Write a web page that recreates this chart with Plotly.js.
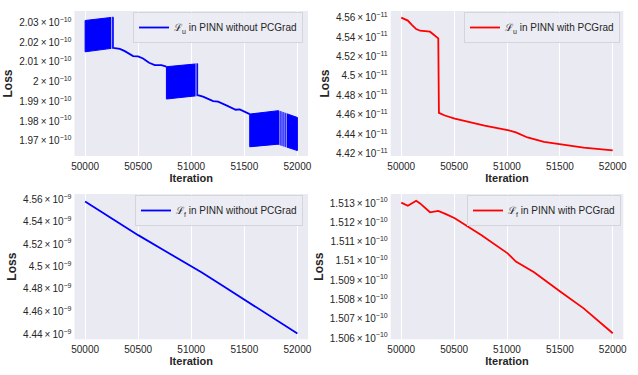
<!DOCTYPE html>
<html>
<head>
<meta charset="utf-8">
<script src="https://cdn.plot.ly/plotly-3.0.1.min.js"></script>
<style>html,body{margin:0;padding:0;background:#fff;}#chart{width:638px;height:375px;}</style>
</head>
<body>
<div id="chart"></div>
<script>
// ---------- data ----------
const xTicks = [50000, 50500, 51000, 51500, 52000];

// Panel 1: L_u without PCGrad (oscillating bands + connecting line)
const band1X = [50000, 50265];
const band1Top = [2.0312e-10, 2.0329e-10];
const band1Bot = [2.0151e-10, 2.0170e-10];
const band2X = [50766, 51060];
const band2Top = [2.0075e-10, 2.0090e-10];
const band2Bot = [1.9911e-10, 1.9928e-10];
const band3X = [51551, 51818, 52000];
const band3Top = [1.9835e-10, 1.9852e-10, 1.9818e-10];
const band3Bot = [1.9671e-10, 1.9684e-10, 1.9652e-10];
const gapIters = [50250, 51045, 51835, 51855, 51875, 51895];
const seg1X = [50265, 50280, 50327, 50374, 50452, 50499, 50546, 50603, 50656, 50719, 50766];
const seg1Y = [2.0170e-10, 2.0170e-10, 2.0166e-10, 2.01545e-10, 2.0129e-10, 2.01274e-10, 2.0117e-10, 2.0095e-10, 2.0083e-10, 2.0083e-10, 2.0075e-10];
const seg2X = [51060, 51111, 51206, 51253, 51331, 51419, 51457, 51551];
const seg2Y = [1.9931e-10, 1.99227e-10, 1.99007e-10, 1.98973e-10, 1.98787e-10, 1.98567e-10, 1.98584e-10, 1.98347e-10];
const p1Ticks = [2.03e-10, 2.02e-10, 2.01e-10, 2.00e-10, 1.99e-10, 1.98e-10, 1.97e-10];
const p1TickText = ['2.03', '2.02', '2.01', '2', '1.99', '1.98', '1.97'];

// Panel 2: L_u with PCGrad
const p2X = [50000, 50062, 50100, 50141, 50178, 50272, 50350, 50356, 50412, 50506, 50788, 51006, 51084, 51194, 51350, 51569, 51725, 52000];
const p2Y = [4.5603, 4.5572, 4.5528, 4.5483, 4.5466, 4.5456, 4.5387, 4.4618, 4.4591, 4.4560, 4.4488, 4.4443, 4.4419, 4.4367, 4.4323, 4.4285, 4.4264, 4.4237].map(v => v * 1e-11);
const p2Ticks = [4.56e-11, 4.54e-11, 4.52e-11, 4.50e-11, 4.48e-11, 4.46e-11, 4.44e-11, 4.42e-11];
const p2TickText = ['4.56', '4.54', '4.52', '4.5', '4.48', '4.46', '4.44', '4.42'];

// Panel 3: L_f without PCGrad
const p3X = [50000, 50150, 50330, 50500, 50750, 51000, 51100, 51300, 51500, 51800, 52000];
const p3Y = [4.5585, 4.5492, 4.5378, 4.5281, 4.5141, 4.5004, 4.4946, 4.4826, 4.4705, 4.4526, 4.4406].map(v => v * 1e-9);
const p3Ticks = [4.56e-9, 4.54e-9, 4.52e-9, 4.50e-9, 4.48e-9, 4.46e-9, 4.44e-9];
const p3TickText = ['4.56', '4.54', '4.52', '4.5', '4.48', '4.46', '4.44'];

// Panel 4: L_f with PCGrad
const p4X = [50000, 50062, 50141, 50178, 50272, 50350, 50428, 50506, 50756, 51006, 51084, 51256, 51506, 51725, 52000];
const p4Y = [1.51302, 1.51286, 1.51312, 1.51298, 1.51252, 1.51259, 1.51241, 1.51221, 1.51134, 1.51039, 1.50996, 1.50941, 1.50840, 1.50754, 1.50625].map(v => v * 1e-10);
const p4Ticks = [1.513e-10, 1.512e-10, 1.511e-10, 1.510e-10, 1.509e-10, 1.508e-10, 1.507e-10, 1.506e-10];
const p4TickText = ['1.513', '1.512', '1.511', '1.51', '1.509', '1.508', '1.507', '1.506'];

const names = ['ℒ<sub>u</sub> in PINN without PCGrad', 'ℒ<sub>u</sub> in PINN with PCGrad',
               'ℒ<sub>f</sub> in PINN without PCGrad', 'ℒ<sub>f</sub> in PINN with PCGrad'];

// ---------- styling ----------
const BLUE = '#0000FF', RED = '#FF0000', BG = '#EAEAF2';
const FONT = 'Liberation Sans, Arial, sans-serif';
const W = 638, H = 375;

function bandTrace(xs, top, bot) {
  return {
    x: xs.concat(xs.slice().reverse(), [xs[0]]),
    y: top.concat(bot.slice().reverse(), [top[0]]),
    type: 'scatter', mode: 'lines', fill: 'toself', fillcolor: BLUE,
    line: {color: BLUE, width: 1}, showlegend: false, hoverinfo: 'skip',
    xaxis: 'x', yaxis: 'y'
  };
}

const traces = [
  bandTrace(band1X, band1Top, band1Bot),
  bandTrace(band2X, band2Top, band2Bot),
  bandTrace(band3X, band3Top, band3Bot)
];
gapIters.forEach(g => {
  const inBand3 = g > band3X[0], inBand2 = g > band2X[0] && g < band2X[1];
  const t = inBand3 ? band3Top : (inBand2 ? band2Top : band1Top);
  const b = inBand3 ? band3Bot : (inBand2 ? band2Bot : band1Bot);
  traces.push({x: [g, g], y: [Math.min(...b) * 0.999, Math.max(...t) * 1.001], type: 'scatter', mode: 'lines',
    line: {color: BG, width: 0.8}, showlegend: false, hoverinfo: 'skip', xaxis: 'x', yaxis: 'y'});
});
traces.push({x: seg1X.concat([null], seg2X), y: seg1Y.concat([null], seg2Y), type: 'scatter', mode: 'lines',
  line: {color: BLUE, width: 1.8}, name: names[0], xaxis: 'x', yaxis: 'y', legend: 'legend', connectgaps: false});
traces.push({x: p2X, y: p2Y, type: 'scatter', mode: 'lines', line: {color: RED, width: 1.8}, name: names[1],
  xaxis: 'x2', yaxis: 'y2', legend: 'legend2'});
traces.push({x: p3X, y: p3Y, type: 'scatter', mode: 'lines', line: {color: BLUE, width: 1.8}, name: names[2],
  xaxis: 'x3', yaxis: 'y3', legend: 'legend3'});
traces.push({x: p4X, y: p4Y, type: 'scatter', mode: 'lines', line: {color: RED, width: 1.8}, name: names[3],
  xaxis: 'x4', yaxis: 'y4', legend: 'legend4'});

const colL = [74.5 / W, 308 / W], colR = [390.7 / W, 623.3 / W];
const rowT = [1 - 156 / H, 1 - 11 / H], rowB = [1 - 339.3 / H, 1 - 194 / H];

function xAxis(dom, anchor) {
  return {
    domain: dom, anchor: anchor, range: [49900, 52100], tickmode: 'array', tickvals: xTicks,
    ticktext: xTicks.map(String), showgrid: true, gridcolor: '#FFFFFF', gridwidth: 1, zeroline: false,
    showline: false, ticks: '', ticklabelstandoff: 3,
    tickfont: {family: FONT, size: 10, color: '#262626'},
    title: {text: 'Iteration', font: {family: FONT, size: 11, color: '#262626', weight: 700}, standoff: 1}
  };
}
function yAxis(dom, anchor, lo, hi, vals, texts, exp) {
  return {
    domain: dom, anchor: anchor, type: 'log', range: [Math.log10(lo), Math.log10(hi)],
    tickmode: 'array', tickvals: vals,
    ticktext: texts.map(t => t + '\u2009×\u200910<sup>−' + exp + '</sup>'),
    showgrid: false, zeroline: false, showline: false, ticks: '', ticklabelstandoff: 2,
    tickfont: {family: FONT, size: 10, color: '#262626'},
    title: {text: 'Loss', font: {family: FONT, size: 12, color: '#262626', weight: 700}, standoff: 3}
  };
}
function legendAt(xr, ytop) {
  return {
    x: xr / W, xanchor: 'right', y: 1 - ytop / H, yanchor: 'top',
    bgcolor: 'rgba(236,236,244,0.9)', bordercolor: '#D4D4DC', borderwidth: 1,
    font: {family: FONT, size: 10, color: '#262626'}, itemwidth: 30, tracegroupgap: 0
  };
}

const layout = {
  width: W, height: H, margin: {l: 0, r: 0, t: 0, b: 0},
  paper_bgcolor: '#FFFFFF', plot_bgcolor: BG, font: {family: FONT, color: '#262626'},
  showlegend: true,
  xaxis: xAxis(colL, 'y'), yaxis: yAxis(rowT, 'x', 1.9625e-10, 2.0361e-10, p1Ticks, p1TickText, 10),
  xaxis2: xAxis(colR, 'y2'), yaxis2: yAxis(rowT, 'x2', 4.4179e-11, 4.5672e-11, p2Ticks, p2TickText, 11),
  xaxis3: xAxis(colL, 'y3'), yaxis3: yAxis(rowB, 'x3', 4.4355e-9, 4.5652e-9, p3Ticks, p3TickText, 9),
  xaxis4: xAxis(colR, 'y4'), yaxis4: yAxis(rowB, 'x4', 1.50594e-10, 1.51347e-10, p4Ticks, p4TickText, 10),
  legend: legendAt(303, 12), legend2: legendAt(620, 12),
  legend3: legendAt(303, 195), legend4: legendAt(621, 195)
};

Plotly.newPlot('chart', traces, layout, {staticPlot: true, displayModeBar: false});
</script>
</body>
</html>
